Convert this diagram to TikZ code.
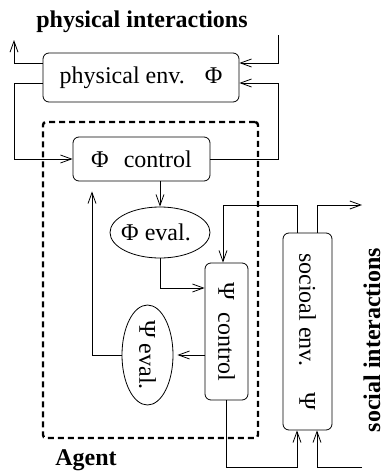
\documentclass[tikz,border=0pt]{standalone}
\usepackage{fontspec}
\setmainfont{Liberation Serif}
\usetikzlibrary{arrows.meta,shapes.geometric,calc}
\begin{document}
\begin{tikzpicture}[x=1pt,y=-1pt,
  font=\fontsize{24}{28}\selectfont,
  line width=0.8pt,
  box/.style={draw, rounded corners=6pt, inner sep=0pt},
  ell/.style={draw, ellipse, inner sep=0pt},
  arr/.style={-{Straight Barb[length=11pt,width=8pt]}},
  lbl/.style={font=\fontsize{24}{28}\selectfont\bfseries},
  agentstyle/.style={draw, line width=2.4pt, dash pattern=on 6pt off 4pt, rounded corners=3pt, inner sep=0pt}]
\useasboundingbox (0,0) rectangle (387,474);

% nodes
\node[lbl] (title) at (142,22) {physical interactions};
\node[box, minimum width=196pt, minimum height=49pt] (phys) at (141,77.5) {physical env.\hspace{20pt}Φ};
\node[agentstyle, minimum width=215pt, minimum height=316pt] (agentbox) at (150.5,280) {};
\node[box, minimum width=137pt, minimum height=44pt] (phictl) at (141.5,159) {Φ\hspace{15pt}control};
\node[ell, minimum width=100pt, minimum height=51pt, label={[xshift=-4pt]center:Φ eval.}] (phieval) at (160,232.5) {};
\node[box, minimum width=43pt, minimum height=137pt] (psictl) at (226.5,331.5) {\rotatebox{-90}{Ψ\hspace{13pt}control}};
\node[ell, minimum width=51pt, minimum height=100pt, label={[rotate=-90]center:Ψ eval.}] (psieval) at (147.5,355) {};
\node[box, minimum width=49pt, minimum height=197pt] (socenv) at (307.5,331.5) {\rotatebox{-90}{socioal env.\hspace{26pt}Ψ}};
\node[lbl] (agent) at (86,460) {Agent};
\node[lbl, rotate=90] (social) at (372,340) {social interactions};

% helper coordinates
\coordinate (pout) at (14,40);
\coordinate (lx) at (14,0);
\coordinate (pin1) at (278,35);
\coordinate (pe1) at ([yshift=14.5pt]phys.east);
\coordinate (pe2) at ([yshift=-5.5pt]phys.east);
\coordinate (pw1) at ([yshift=14.5pt]phys.west);
\coordinate (pw2) at ([yshift=-5.5pt]phys.west);
\coordinate (top1) at (223,205);
\coordinate (sout) at (362,205);
\coordinate (bot) at (0,467);
\coordinate (sin) at (362,467);
\coordinate (sn1) at ([xshift=-10.5pt]socenv.north);
\coordinate (sn2) at ([xshift=9.5pt]socenv.north);
\coordinate (ss1) at ([xshift=-10.5pt]socenv.south);
\coordinate (ss2) at ([xshift=9.5pt]socenv.south);
\coordinate (pcw) at ([yshift=43.5pt]psictl.west);
\coordinate (lx2) at (92,0);

% connectors
\draw[arr] (pw1) -| (pout);
\draw[arr] (pw2) -| (lx |- phictl.west) -- (phictl.west);
\draw[arr] (pin1) |- (pe1);
\draw[arr] (phictl.east) -| (pe2 -| pin1) -- (pe2);
\draw[arr] (phieval.north |- phictl.south) -- (phieval.north);
\draw[arr] (phieval.south) |- (pcw);
\draw[arr] (sn1) |- (top1) -- (top1 |- psictl.north);
\draw[arr] (sn2) |- (sout);
\draw[arr] (psictl.south) |- (ss1 |- bot) -- (ss1);
\draw[arr] (sin) -| (ss2);
\draw[arr, shorten >=4pt] (psictl.west |- psieval.east) -- (psieval.east);
\draw[arr, shorten >=10pt] (psieval.west) -| (lx2 |- phictl.south);
\end{tikzpicture}
\end{document}
